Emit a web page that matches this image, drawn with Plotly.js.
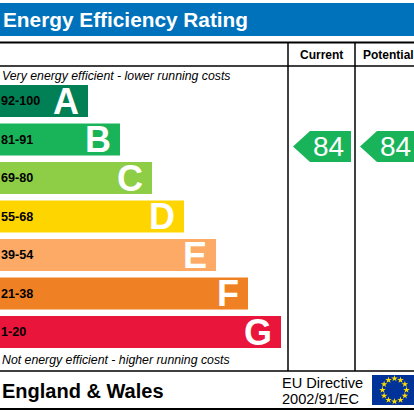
<!DOCTYPE html>
<html><head><meta charset="utf-8">
<script src="https://cdn.plot.ly/plotly-3.0.1.min.js"></script>
<style>html,body{margin:0;padding:0;background:#fff}#chart{width:414px;height:414px}</style>
</head><body><div id="chart"></div>
<script>
// ---- data ----
const bands = ['A','B','C','D','E','F','G'];
const ranges = ['92-100','81-91','69-80','55-68','39-54','21-38','1-20'];
const bandMin = [92,81,69,55,39,21,1];
const bandMax = [100,91,80,68,54,38,20];
const barLengths = [88,120,152,184,216,248,281];
const bandColors = ['#008054','#19b459','#8dce46','#ffd500','#fcaa65','#ef8023','#e9153b'];
const currentRating = 84;
const potentialRating = 84;
const columnHeaders = ['Current','Potential'];
const topNote = 'Very energy efficient - lower running costs';
const bottomNote = 'Not energy efficient - higher running costs';
const titleText = 'Energy Efficiency Rating';
const regionText = 'England & Wales';
const directiveLines = ['EU Directive','2002/91/EC'];

// ---- helpers ----
const W = 414, H = 414;
const FONT = 'Liberation Sans, Arial, sans-serif';
const py = v => 1 - v / H; // pixel y -> paper y
function bandIndex(r){ return bandMin.findIndex((m,i)=> r>=m && r<=bandMax[i]); }
function ratingPos(r){
  const i = bandIndex(r);
  const mid = (bandMin[i] + bandMax[i]) / 2;
  return i + (mid - r) / (bandMax[i] - bandMin[i] + 1);
}

const slot = 38.5, barH = 32;
const yTop = 81.75, yBot = yTop + slot * bands.length;

const traces = [{
  type: 'bar', orientation: 'h',
  y: bands.map((b,i)=>i), x: barLengths,
  marker: {color: bandColors, line: {width: 0}},
  width: barH / slot, hoverinfo: 'skip', xaxis: 'x', yaxis: 'y'
}];

const shapes = [];
const annotations = [];

// header bar
shapes.push({type:'rect', xref:'paper', yref:'paper', x0:0, x1:1, y0:py(36), y1:py(3), fillcolor:'#0072bc', line:{width:0}, layer:'below'});
annotations.push({xref:'paper', yref:'paper', x:1/W, y:py(19.5), xanchor:'left', yanchor:'middle', showarrow:false,
  text:'<b>'+titleText+'</b>', font:{family:FONT, size:20.8, color:'#fff'}});

// grid lines
const hl = (y, w) => shapes.push({type:'line', xref:'paper', yref:'paper', x0:0, x1:1, y0:py(y), y1:py(y), line:{color:'#000', width:w}});
hl(42.5, 2); hl(66, 1.5); hl(371, 1.5); hl(409, 2);
const vl = x => shapes.push({type:'line', xref:'x', yref:'paper', x0:x, x1:x, y0:py(42.5), y1:py(371), line:{color:'#000', width:1.5}});
vl(288); vl(355);

// column headers
annotations.push({xref:'x', yref:'paper', x:321.5, y:py(54.5), xanchor:'center', yanchor:'middle', showarrow:false,
  text:'<b>'+columnHeaders[0]+'</b>', font:{family:FONT, size:12, color:'#000'}});
annotations.push({xref:'x', yref:'paper', x:361, y:py(54.5), xanchor:'left', yanchor:'middle', showarrow:false,
  text:'<b>'+columnHeaders[1]+'</b>', font:{family:FONT, size:12, color:'#000'}});

// notes
annotations.push({xref:'paper', yref:'paper', x:0, y:py(76), xanchor:'left', yanchor:'middle', showarrow:false,
  text:'<i>'+topNote+'</i>', font:{family:FONT, size:12.3, color:'#000'}});
annotations.push({xref:'paper', yref:'paper', x:0, y:py(360), xanchor:'left', yanchor:'middle', showarrow:false,
  text:'<i>'+bottomNote+'</i>', font:{family:FONT, size:12.3, color:'#000'}});

// band labels
bands.forEach((b,i)=>{
  annotations.push({xref:'paper', yref:'y', x:0, y:i, xanchor:'left', yanchor:'middle', showarrow:false, xshift:-1,
    text:'<b>'+ranges[i]+'</b>', font:{family:FONT, size:12.6, color:'#000'}});
  annotations.push({xref:'x', yref:'y', x:barLengths[i]-7, y:i, xanchor:'right', yanchor:'middle', showarrow:false,
    text:'<b>'+b+'</b>', font:{family:FONT, size:36, color:'#fff'}});
});

// rating arrows
function arrow(rating, xTip, xEnd){
  const y = ratingPos(rating);
  const h = 15.5 / slot;
  const tipW = 17;
  const col = bandColors[bandIndex(rating)];
  shapes.push({type:'path', xref:'x', yref:'y', fillcolor:col, line:{width:0},
    path:`M ${xTip} ${y} L ${xTip+tipW} ${y-h} L ${xEnd} ${y-h} L ${xEnd} ${y+h} L ${xTip+tipW} ${y+h} Z`});
  annotations.push({xref:'x', yref:'y', x:xEnd-23, y:y, xanchor:'center', yanchor:'middle', showarrow:false,
    text:String(rating), font:{family:FONT, size:28, color:'#fff'}});
}
arrow(currentRating, 293, 351);
arrow(potentialRating, 360, 418);

// footer
annotations.push({xref:'paper', yref:'paper', x:0, y:py(391), xanchor:'left', yanchor:'middle', showarrow:false,
  text:'<b>'+regionText+'</b>', font:{family:FONT, size:20, color:'#000'}});
annotations.push({xref:'x', yref:'paper', x:280, y:py(383), xanchor:'left', yanchor:'middle', showarrow:false,
  text:directiveLines[0], font:{family:FONT, size:14.6, color:'#000'}});
annotations.push({xref:'x', yref:'paper', x:280, y:py(399), xanchor:'left', yanchor:'middle', showarrow:false,
  text:directiveLines[1], font:{family:FONT, size:14.6, color:'#000'}});

// EU flag
shapes.push({type:'rect', xref:'x', yref:'y2', x0:372, x1:416, y0:375, y1:405, fillcolor:'#003399', line:{width:0}, layer:'below'});
const sx = [], sy = [];
for(let k=0;k<12;k++){ const a = k*Math.PI/6; sx.push(394.5+12*Math.sin(a)); sy.push(390-11.5*Math.cos(a)); }
traces.push({type:'scatter', mode:'markers', x:sx, y:sy, xaxis:'x', yaxis:'y2',
  marker:{symbol:'star', size:5, color:'#ffdd00', line:{width:0}}, hoverinfo:'skip', cliponaxis:false});

const layout = {
  width: W, height: H, margin:{l:0,r:0,t:0,b:0,pad:0},
  paper_bgcolor:'#fff', plot_bgcolor:'rgba(0,0,0,0)', showlegend:false,
  xaxis:{range:[0,W], visible:false, fixedrange:true},
  yaxis:{range:[bands.length-0.5,-0.5], domain:[py(yBot), py(yTop)], visible:false, fixedrange:true},
  yaxis2:{range:[H,0], domain:[0,1], visible:false, fixedrange:true, anchor:'x'},
  shapes, annotations
};
Plotly.newPlot('chart', traces, layout, {staticPlot:true, displayModeBar:false});
</script></body></html>
